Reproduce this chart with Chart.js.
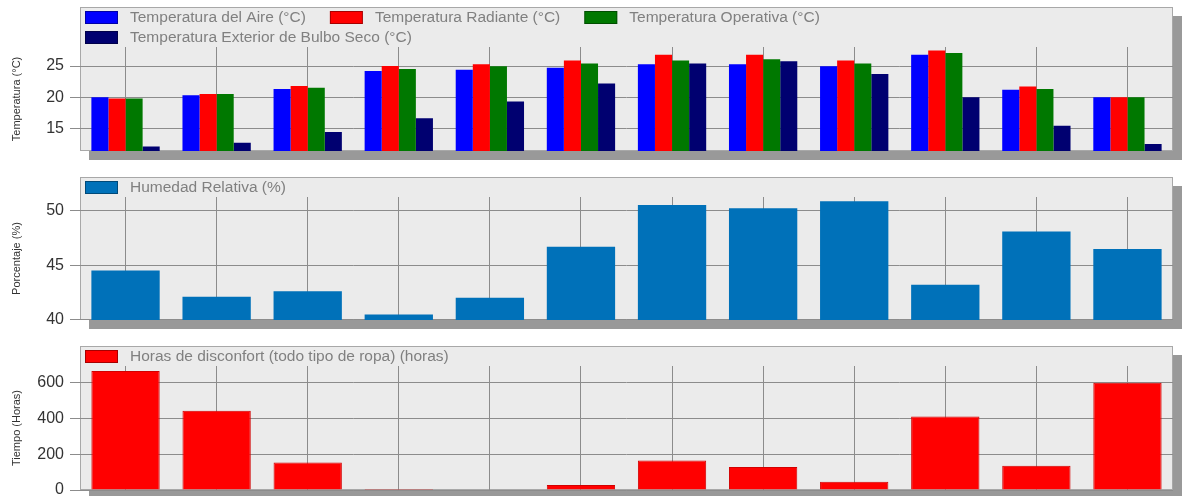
<!DOCTYPE html>
<html>
<head>
<meta charset="utf-8">
<script src="https://cdn.jsdelivr.net/npm/chart.js@4.4.1/dist/chart.umd.min.js"></script>
<style>
    body { margin: 0; background: #ffffff; }
    canvas { position: absolute; left: 0; display: block; }
</style>
</head>
<body>
<canvas id="temp-chart" width="1190" height="165" style="top:0px"></canvas>
<canvas id="hum-chart" width="1190" height="165" style="top:165px"></canvas>
<canvas id="hours-chart" width="1190" height="166" style="top:330px"></canvas>
<script>
// Data
const months = ["Enero", "Febrero", "Marzo", "Abril", "Mayo", "Junio", "Julio", "Agosto", "Septiembre", "Octubre", "Noviembre", "Diciembre"];

const tempAire = [20.0, 20.3, 21.3, 24.2, 24.4, 24.7, 25.3, 25.3, 24.95, 26.8, 21.2, 20.0];
const tempRadiante = [19.8, 20.5, 21.8, 25.0, 25.3, 25.9, 26.8, 26.8, 25.9, 27.5, 21.7, 20.0];
const tempOperativa = [19.8, 20.5, 21.5, 24.5, 24.95, 25.4, 25.9, 26.1, 25.4, 27.1, 21.3, 20.0];
const tempExterior = [12.1, 12.7, 14.4, 16.6, 19.3, 22.2, 25.4, 25.75, 23.7, 20.0, 15.4, 12.5];

const humedad = [44.5, 42.1, 42.6, 40.45, 42.0, 46.7, 50.55, 50.25, 50.9, 43.2, 48.1, 46.5];

const horasDisconfort = [665, 443, 153, 5, 0, 28, 165, 129, 46, 411, 135, 600];

const tempTicks = [15, 20, 25];
const humTicks = [40, 45, 50];
const hoursTicks = [0, 200, 400, 600];

// Gray panel with shadow and legend drawn inside it, above the plot area
const panelLegend = {
    id: "panelLegend",
    beforeDraw(chart, args, opts) {
        const { ctx, chartArea: a } = chart;
        const sets = chart.data.datasets;
        const rows = Math.ceil(sets.length / opts.perRow);
        const top = a.top - rows * 20;
        const w = a.right - a.left;
        const h = a.bottom - top;

        ctx.save();
        ctx.fillStyle = "#999999";
        ctx.fillRect(a.left + 9, top + 9, w, h);
        ctx.fillStyle = "#ebebeb";
        ctx.fillRect(a.left, top, w, h);
        ctx.strokeStyle = "#a8a8a8";
        ctx.lineWidth = 1;
        ctx.strokeRect(a.left + 0.5, top + 0.5, w - 1, h - 1);

        ctx.font = '15.5px "Liberation Sans", Arial, sans-serif';
        ctx.textBaseline = "middle";
        ctx.textAlign = "left";
        let x = a.left + 5;
        sets.forEach((ds, i) => {
            const row = Math.floor(i / opts.perRow);
            if (i % opts.perRow === 0) x = a.left + 5;
            const y = top + 4 + row * 20;
            ctx.fillStyle = ds.backgroundColor;
            ctx.fillRect(x, y, 33, 13);
            ctx.strokeStyle = "rgba(0,0,0,0.35)";
            ctx.strokeRect(x + 0.5, y + 0.5, 32, 12);
            ctx.fillStyle = "#808080";
            ctx.fillText(ds.label, x + 45, y + 7);
            x += 45 + ctx.measureText(ds.label).width + 24;
        });
        ctx.restore();
    },
};

function makeChart(id, datasets, yTitle, yMin, yMax, ticks, padTop, padBottom, perRow) {
    const ctx = document.getElementById(id).getContext("2d");
    return new Chart(ctx, {
        type: "bar",
        data: { labels: months, datasets: datasets },
        plugins: [panelLegend],
        options: {
            responsive: false,
            animation: false,
            devicePixelRatio: 1,
            layout: { padding: { top: padTop, bottom: padBottom, left: 0, right: 17 } },
            datasets: { bar: { categoryPercentage: 0.75, barPercentage: 1 } },
            plugins: {
                legend: { display: false },
                tooltip: { enabled: false },
                panelLegend: { perRow: perRow },
            },
            scales: {
                x: {
                    ticks: { display: false },
                    grid: { offset: false, color: "#8c8c8c", drawTicks: false },
                    border: { display: false },
                    afterFit: s => { s.height = 0; s.paddingLeft = 0; s.paddingRight = 0; },
                },
                y: {
                    min: yMin,
                    max: yMax,
                    afterBuildTicks: s => { s.ticks = ticks.map(v => ({ value: v })); },
                    afterFit: s => { s.width = 80; s.paddingTop = 0; s.paddingBottom = 0; },
                    ticks: {
                        padding: 6,
                        color: "#333333",
                        font: { family: '"Liberation Sans", Arial, sans-serif', size: 16 },
                    },
                    grid: { color: "#8c8c8c", tickLength: 10 },
                    border: { display: false },
                    title: {
                        display: true,
                        text: yTitle,
                        color: "#333333",
                        padding: { top: 10, bottom: 0 },
                        font: { family: '"Liberation Sans", Arial, sans-serif', size: 11 },
                    },
                },
            },
        },
    });
}

document.addEventListener("DOMContentLoaded", () => {
    makeChart("temp-chart", [
        { label: "Temperatura del Aire (°C)", data: tempAire, backgroundColor: "#0000ff" },
        { label: "Temperatura Radiante (°C)", data: tempRadiante, backgroundColor: "#ff0000" },
        { label: "Temperatura Operativa (°C)", data: tempOperativa, backgroundColor: "#007800" },
        { label: "Temperatura Exterior de Bulbo Seco (°C)", data: tempExterior, backgroundColor: "#000070" },
    ], "Temperatura (°C)", 11.36, 28.05, tempTicks, 47, 14, 3);

    makeChart("hum-chart", [
        { label: "Humedad Relativa (%)", data: humedad, backgroundColor: "#0071b9" },
    ], "Porcentaje (%)", 39.95, 51.28, humTicks, 32, 10, 3);

    makeChart("hours-chart", [
        { label: "Horas de disconfort (todo tipo de ropa) (horas)", data: horasDisconfort,
          backgroundColor: "#ff0000", borderColor: "#d20000", borderWidth: 1 },
    ], "Tiempo (Horas)", 0, 693, hoursTicks, 36, 6, 3);
});
</script>
</body>
</html>
